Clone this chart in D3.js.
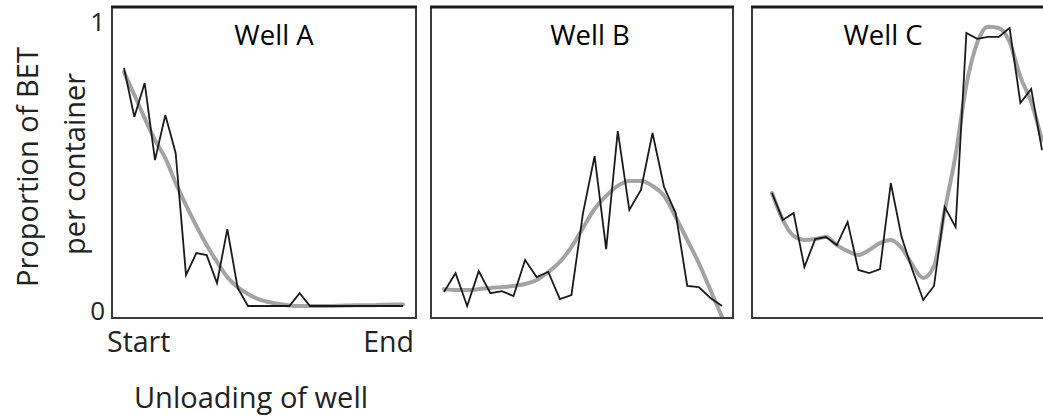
<!DOCTYPE html>
<html>
<head>
<meta charset="utf-8">
<script src="https://cdn.jsdelivr.net/npm/d3@7"></script>
<style>
  html, body { margin: 0; padding: 0; background: #ffffff; }
  svg { display: block; }
</style>
</head>
<body>
<svg id="chart" width="1043" height="419"></svg>
<script>
// ---- data (proportion of BET per container, sampled along the unloading) ----
const panels = ["Well A", "Well B", "Well C"];
const yTicks = [0, 1];
const xTickLabels = ["Start", "End"];
const xTitle = "Unloading of well";
const yTitleLines = ["Proportion of BET", "per container"];

const wellAMeasured = [0.832, 0.661, 0.780, 0.510, 0.668, 0.535, 0.108, 0.185, 0.178, 0.080,
  0.269, 0.063, 0, 0, 0, 0, 0, 0.045, 0, 0, 0, 0, 0, 0, 0, 0, 0, 0];
const wellASmooth = [0.818, 0.738, 0.657, 0.580, 0.517, 0.430, 0.353, 0.280, 0.213, 0.154,
  0.101, 0.066, 0.042, 0.024, 0.014, 0.007, 0.002, 0.000, 0.000, 0.000, 0.000, 0.001,
  0.002, 0.003, 0.003, 0.004, 0.005, 0.005];

const wellBMeasured = [0.049, 0.115, 0.000, 0.122, 0.045, 0.052, 0.035, 0.161, 0.101, 0.119,
  0.024, 0.038, 0.325, 0.524, 0.199, 0.612, 0.336, 0.406, 0.605, 0.416, 0.325, 0.070,
  0.066, 0.028, 0.000];
const wellBSmooth = [0.059, 0.056, 0.056, 0.059, 0.063, 0.066, 0.070, 0.077, 0.091, 0.119,
  0.154, 0.206, 0.273, 0.339, 0.385, 0.420, 0.437, 0.437, 0.420, 0.385, 0.311, 0.231,
  0.150, 0.056, -0.038];

const wellCMeasured = [0.395, 0.301, 0.325, 0.136, 0.234, 0.241, 0.213, 0.294, 0.126, 0.115,
  0.129, 0.430, 0.241, 0.126, 0.021, 0.070, 0.346, 0.276, 0.955, 0.934, 0.941, 0.941,
  0.972, 0.710, 0.759, 0.545];
const wellCSmooth = [0.395, 0.301, 0.245, 0.231, 0.234, 0.241, 0.213, 0.192, 0.178, 0.196,
  0.220, 0.231, 0.203, 0.143, 0.098, 0.140, 0.336, 0.528, 0.773, 0.920, 0.976, 0.972,
  0.923, 0.801, 0.713, 0.580];

const measured = [wellAMeasured, wellBMeasured, wellCMeasured];
const smooth = [wellASmooth, wellBSmooth, wellCSmooth];

// ---- layout ----
const svg = d3.select("#chart");
const boxes = [
  {x0: 112, x1: 416, d0: 124, d1: 403, tx: 274},
  {x0: 431, x1: 733, d0: 444, d1: 722, tx: 590},
  {x0: 752, x1: 1062, d0: 772, d1: 1042, tx: 883}
];
const boxTop = 7, boxBottom = 318;
const y = d3.scaleLinear().domain([0, 1]).range([306, 20]);
const font = "'Open Sans', sans-serif";

const defs = svg.append("defs");

panels.forEach((name, i) => {
  const b = boxes[i];
  const n = measured[i].length;
  const x = d3.scaleLinear().domain([0, n - 1]).range([b.d0, b.d1]);

  defs.append("clipPath").attr("id", "clip" + i)
    .append("rect").attr("x", b.x0 + 1).attr("y", boxTop + 1)
    .attr("width", b.x1 - b.x0 - 2).attr("height", boxBottom - boxTop - 2);

  const g = svg.append("g");
  const plot = g.append("g").attr("clip-path", `url(#clip${i})`);

  const smoothLine = d3.line().x((d, j) => x(j)).y(d => y(d)).curve(d3.curveMonotoneX);
  const rawLine = d3.line().x((d, j) => x(j)).y(d => y(d));

  plot.append("path").datum(smooth[i])
    .attr("d", smoothLine)
    .attr("fill", "none").attr("stroke", "#a3a3a3").attr("stroke-width", 4)
    .attr("stroke-linecap", "round").attr("stroke-linejoin", "round");

  plot.append("path").datum(measured[i])
    .attr("d", rawLine)
    .attr("fill", "none").attr("stroke", "#1a1a1a").attr("stroke-width", 1.8)
    .attr("stroke-linejoin", "miter");

  // frame
  g.append("rect").attr("x", b.x0).attr("y", boxTop)
    .attr("width", b.x1 - b.x0).attr("height", boxBottom - boxTop)
    .attr("fill", "none").attr("stroke", "#3c3c3c").attr("stroke-width", 2);
  g.append("line").attr("x1", b.x0 - 1).attr("x2", b.x1 + 1)
    .attr("y1", boxTop).attr("y2", boxTop)
    .attr("stroke", "#1a1a1a").attr("stroke-width", 3);

  // title
  g.append("text")
    .attr("x", b.tx)
    .attr("y", 45)
    .attr("text-anchor", "middle")
    .attr("font-family", font)
    .attr("font-size", 27.5)
    .attr("fill", "#000")
    .text(name);
});

// y tick labels (panel A only)
svg.selectAll(".ytick").data(yTicks).enter().append("text")
  .attr("class", "ytick")
  .attr("x", 105)
  .attr("y", d => d === 1 ? y(d) + 11 : y(d) + 14)
  .attr("text-anchor", "end")
  .attr("font-family", font)
  .attr("font-size", 26)
  .attr("fill", "#222")
  .text(d => d);

// x tick labels
svg.append("text").attr("x", 107).attr("y", 352)
  .attr("font-family", font).attr("font-size", 28.5)
  .attr("fill", "#222").text(xTickLabels[0]);
svg.append("text").attr("x", 414).attr("y", 352).attr("text-anchor", "end")
  .attr("font-family", font).attr("font-size", 28.5)
  .attr("fill", "#222").text(xTickLabels[1]);

// x title
svg.append("text").attr("x", 251).attr("y", 408).attr("text-anchor", "middle")
  .attr("font-family", font).attr("font-size", 29)
  .attr("fill", "#222").text(xTitle);

// y title (two rotated lines)
yTitleLines.forEach((t, k) => {
  svg.append("text")
    .attr("transform", `translate(${k === 0 ? 38 : 85}, ${k === 0 ? 167 : 164}) rotate(-90)`)
    .attr("text-anchor", "middle")
    .attr("font-family", font).attr("font-size", 29)
    .attr("fill", "#222").text(t);
});
</script>
</body>
</html>
